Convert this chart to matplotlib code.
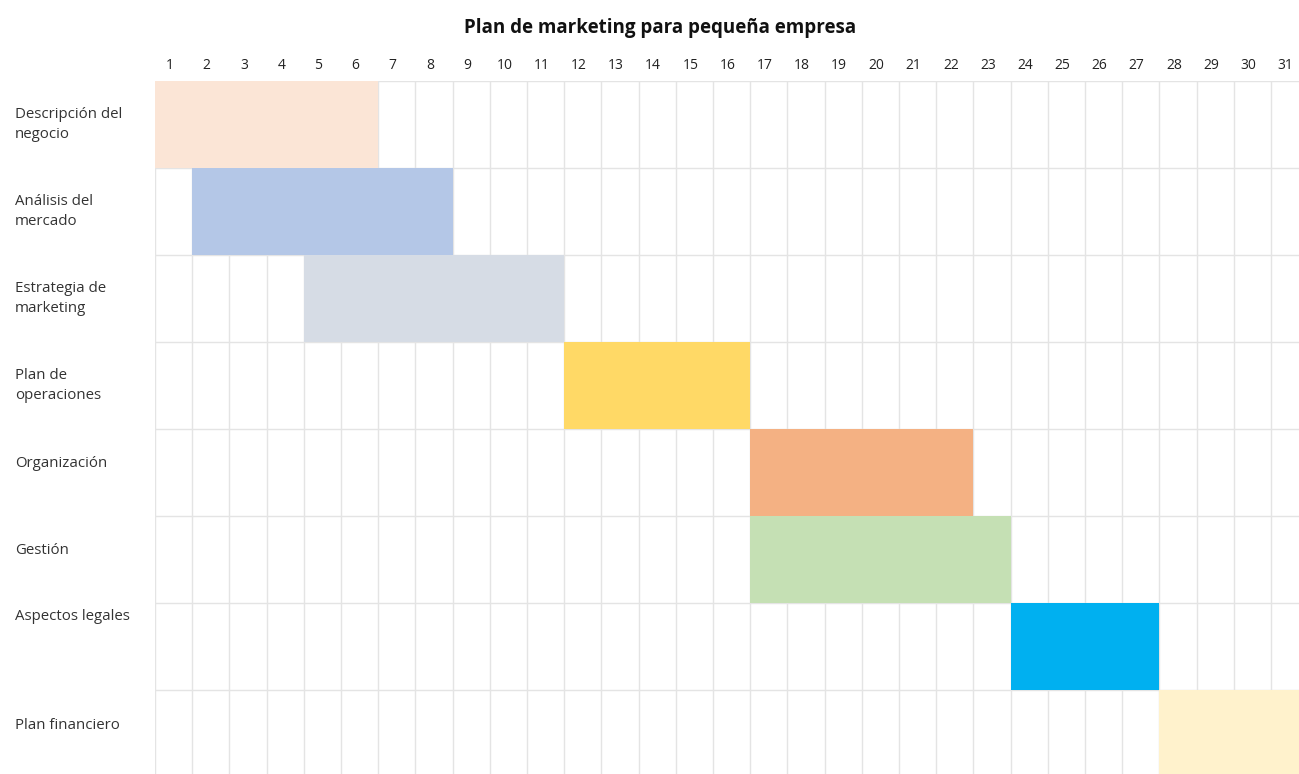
import matplotlib.pyplot as plt
import matplotlib.transforms as mtransforms

plt.rcParams['font.family'] = ['Open Sans', 'DejaVu Sans']

tasks = ["Descripción del\nnegocio", "Análisis del\nmercado", "Estrategia de\nmarketing",
         "Plan de\noperaciones", "Organización", "Gestión", "Aspectos legales",
         "Plan financiero"]
start_day = [1, 2, 5, 12, 17, 17, 24, 28]
end_day = [6, 8, 11, 16, 22, 23, 27, 31]
colors = ["#FBE5D6", "#B4C7E7", "#D6DCE5", "#FFD966", "#F4B183", "#C5E0B4",
          "#00B0F0", "#FFF2CC"]
days = list(range(1, 32))

# where the label sits inside its row (0 = top of row, 1 = bottom)
label_pos = [0.5, 0.5, 0.5, 0.5, 0.4, 0.4, 0.16, 0.41]

W, H = 1299, 774
fig = plt.figure(figsize=(W / 100, H / 100), dpi=100)
row_h = 87
ax = fig.add_axes([155 / W, 1 - (81 + 8 * row_h) / H, 31 * 37.2 / W, 8 * row_h / H])

for i in range(len(tasks)):
    ax.barh(i, end_day[i] - start_day[i] + 1, left=start_day[i] - 0.5, height=1,
            color=colors[i], zorder=2)

# cell grid
for x in range(0, 32):
    ax.axvline(x + 0.5, color="#E4E4E4", lw=1, zorder=1)
for y in range(0, 9):
    ax.axhline(y - 0.5, color="#E4E4E4", lw=1, zorder=1)

ax.set_xlim(0.5, 31.5)
ax.set_ylim(7.5, -0.5)
ax.set_xticks(days)
ax.set_xticklabels([str(d) for d in days], fontsize=10, color="#222222")
ax.xaxis.tick_top()
ax.tick_params(axis="x", length=0, pad=6)
shift = mtransforms.ScaledTranslation(-4 / 100, 0, fig.dpi_scale_trans)
for lbl in ax.get_xticklabels():
    lbl.set_transform(lbl.get_transform() + shift)
ax.set_yticks([])
for s in ax.spines.values():
    s.set_visible(False)

for i, t in enumerate(tasks):
    y = i - 0.5 + label_pos[i]
    ax.text(-(155 - 15) / 37.2 + 0.5, y, t, ha="left", va="center", fontsize=10.8,
            color="#333333", linespacing=1.45, clip_on=False)

fig.text(660 / W, 1 - 28 / H, "Plan de marketing para pequeña empresa",
         ha="center", va="center", fontsize=13.5, fontweight="bold", color="#111111")

fig.savefig("out.png", dpi=100)
